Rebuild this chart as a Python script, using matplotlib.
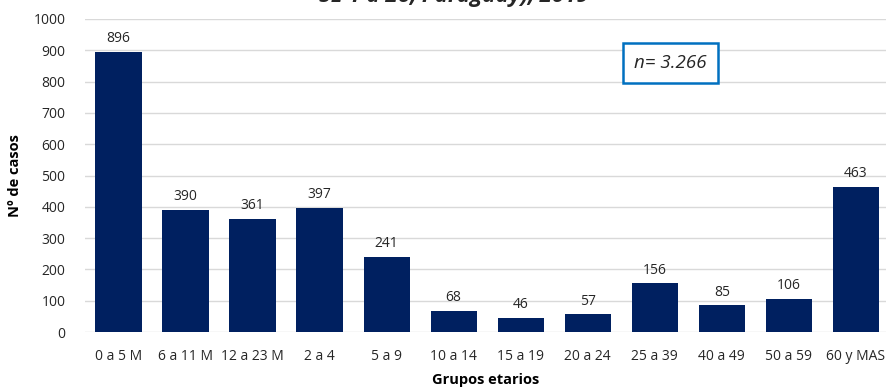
import matplotlib.pyplot as plt
import numpy as np

plt.rcParams['font.family'] = ['Open Sans', 'DejaVu Sans']

grupos = ['0 a 5 M', '6 a 11 M', '12 a 23 M', '2 a 4', '5 a 9', '10 a 14',
          '15 a 19', '20 a 24', '25 a 39', '40 a 49', '50 a 59', '60 y MAS']
casos = [896, 390, 361, 397, 241, 68, 46, 57, 156, 85, 106, 463]
total = 'n= 3.266'

fig = plt.figure(figsize=(8.86, 3.89), dpi=100)
ax = fig.add_axes([85/886, 1-332/389, 801/886, 313/389])

x = np.arange(len(grupos))
ax.bar(x, casos, width=0.69, color='#002060', zorder=3)
for xi, v in zip(x, casos):
    ax.text(xi, v + 18, str(v), ha='center', va='bottom', fontsize=10, color='#262626')

ax.set_ylim(0, 1000)
ax.set_xlim(-0.5, 11.45)
ax.set_yticks(range(0, 1001, 100))
ax.set_xticks(x)
ax.set_xticklabels(grupos)
ax.tick_params(axis='both', length=0, labelsize=10, colors='#262626')
ax.tick_params(axis='y', pad=14)
ax.tick_params(axis='x', pad=12)
ax.yaxis.grid(True, color='#d9d9d9', linewidth=1, zorder=0)
for s in ax.spines.values():
    s.set_visible(False)

ax.set_ylabel('Nº de casos', fontsize=10.5, fontweight='bold', labelpad=8)
ax.set_xlabel('Grupos etarios', fontsize=10.5, fontweight='bold', labelpad=7)

# caja con el total de casos
ax.text(8.23, 860, total, fontsize=13.5, style='italic', ha='center', va='center',
        color='#262626', zorder=4,
        bbox=dict(boxstyle='square,pad=0.6', facecolor='white', edgecolor='#0070C0', linewidth=1.8))

# titulo (cortado por el borde superior)
fig.text(0.512, 1.010, 'SE 1 a 26, Paraguay), 2019', ha='center', va='center',
         fontsize=16, fontweight='bold', style='italic', color='#262626')

fig.savefig('out.png', dpi=100)
